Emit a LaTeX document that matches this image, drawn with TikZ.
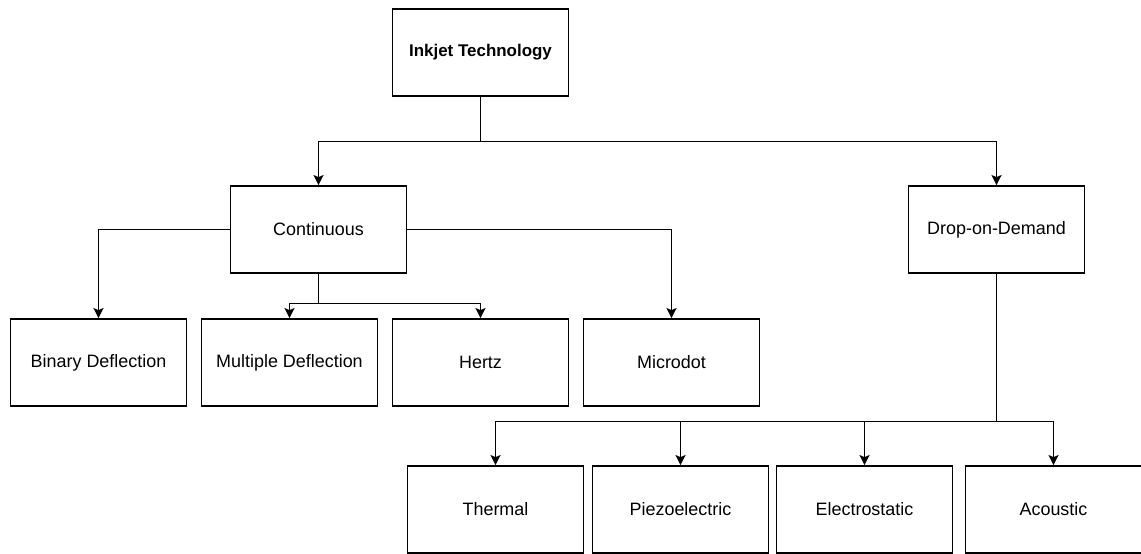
\documentclass[tikz,border=0pt]{standalone}
\usepackage{fontspec}
\setmainfont{Liberation Sans}
\usetikzlibrary{arrows.meta}

\tikzset{
  box/.style={draw, line width=1.8bp, minimum width=176bp, minimum height=87bp,
    inner sep=0pt, font=\fontsize{18}{20}\selectfont},
  arr/.style={line width=1.8bp, -{Stealth[length=10bp,width=10bp,inset=2bp]}},
  ln/.style={line width=1.8bp}
}

\begin{document}
\begin{tikzpicture}[x=1bp,y=-1bp]
  \useasboundingbox (0,0) rectangle (1141,554);
  % root and first level
  \node[box, font=\fontsize{17}{20}\selectfont\bfseries] (ink) at (480.5,52.5) {Inkjet Technology};
  \node[box] (cont) at (318.5,229.5) {Continuous};
  \node[box] (dod) at (996.5,229.5) {Drop-on-Demand};
  % continuous types
  \foreach \n/\x/\t in {bin/98.5/Binary Deflection, mult/289.5/Multiple Deflection,
                        hertz/480.5/Hertz, micro/671.5/Microdot}{
    \node[box] (\n) at (\x,362.5) {\t};}
  % drop-on-demand types
  \foreach \n/\x/\t in {therm/495.5/Thermal, piezo/680.5/Piezoelectric,
                        elec/864.5/Electrostatic, acou/1053.5/Acoustic}{
    \node[box] (\n) at (\x,509.5) {\t};}
  % split points
  \coordinate (rsplit) at (480.5,141.5);
  \coordinate (csplit) at (318.5,303.5);
  \coordinate (dsplit) at (996.5,421.5);
  \draw[ln] (ink.south) -- (rsplit);
  \draw[arr] (rsplit) -| (cont.north);
  \draw[arr] (rsplit) -| (dod.north);
  \draw[arr] (cont.west) -| (bin.north);
  \draw[arr] (cont.east) -| (micro.north);
  \draw[ln] (cont.south) -- (csplit);
  \foreach \n in {mult,hertz}
    \draw[arr] (csplit) -| (\n.north);
  \draw[ln] (dod.south) -- (dsplit);
  \foreach \n in {therm,piezo,elec,acou}
    \draw[arr] (dsplit) -| (\n.north);
\end{tikzpicture}
\end{document}
